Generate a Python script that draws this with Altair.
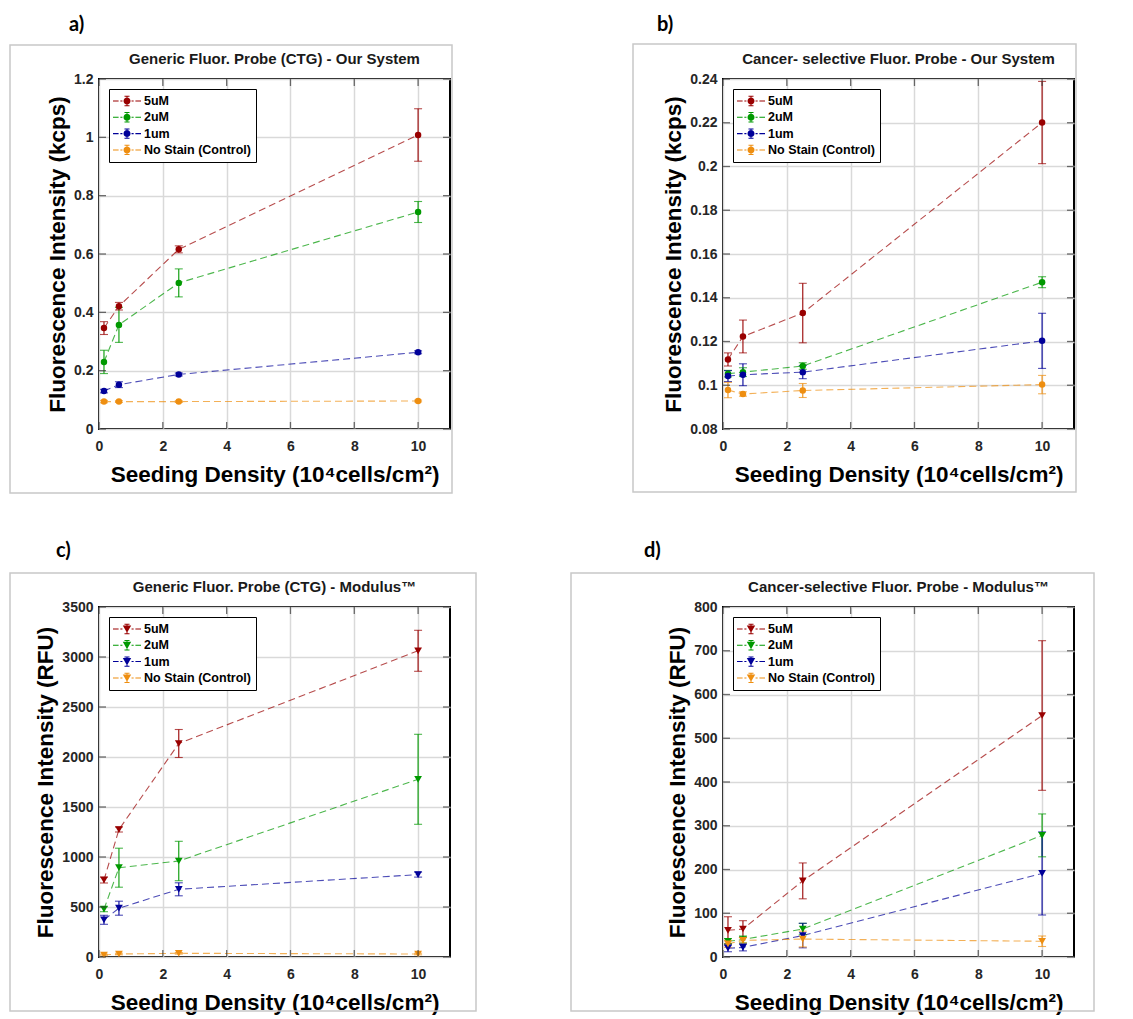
import math
import altair as alt
import pandas as pd

# ---------------- data ----------------
x_density = [0.156, 0.625, 2.5, 10]
series_names = ["5uM", "2uM", "1um", "No Stain (Control)"]
series_colors = ["#990000", "#009900", "#000099", "#EE8E10"]
x_ticks = [0, 2, 4, 6, 8, 10]

# a) Generic probe - our system (kcps)
a_5uM = [0.346, 0.421, 0.616, 1.008]
a_5uM_err = [0.022, 0.013, 0.012, 0.090]
a_2uM = [0.230, 0.357, 0.501, 0.744]
a_2uM_err = [0.040, 0.060, 0.048, 0.036]
a_1um = [0.130, 0.152, 0.187, 0.263]
a_1um_err = [0.006, 0.010, 0.005, 0.005]
a_ctrl = [0.094, 0.094, 0.094, 0.096]
a_ctrl_err = [0.004, 0.003, 0.003, 0.003]
a_y_ticks = [0, 0.2, 0.4, 0.6, 0.8, 1.0, 1.2]

# b) Cancer-selective probe - our system (kcps)
b_5uM = [0.1118, 0.1223, 0.1330, 0.2201]
b_5uM_err = [0.0030, 0.0075, 0.0136, 0.0188]
b_2uM = [0.1053, 0.1060, 0.1088, 0.1471]
b_2uM_err = [0.0015, 0.0020, 0.0015, 0.0025]
b_1um = [0.1042, 0.1048, 0.1060, 0.1203]
b_1um_err = [0.0025, 0.0050, 0.0030, 0.0126]
b_ctrl = [0.0978, 0.0960, 0.0976, 0.1003]
b_ctrl_err = [0.0035, 0.0010, 0.0032, 0.0042]
b_y_ticks = [0.08, 0.10, 0.12, 0.14, 0.16, 0.18, 0.20, 0.22, 0.24]

# c) Generic probe - Modulus (RFU)
c_5uM = [770, 1275, 2135, 3062]
c_5uM_err = [30, 25, 140, 205]
c_2uM = [478, 893, 960, 1777]
c_2uM_err = [25, 195, 197, 450]
c_1um = [372, 488, 677, 824]
c_1um_err = [45, 70, 65, 25]
c_ctrl = [20, 30, 37, 30]
c_ctrl_err = [8, 8, 8, 8]
c_y_ticks = [0, 500, 1000, 1500, 2000, 2500, 3000, 3500]

# d) Cancer-selective probe - Modulus (RFU)
d_5uM = [61, 64, 174, 552]
d_5uM_err = [31, 19, 41, 171]
d_2uM = [36, 40, 64, 278]
d_2uM_err = [6, 8, 13, 49]
d_1um = [20, 22, 49, 191]
d_1um_err = [8, 8, 28, 95]
d_ctrl = [30, 38, 41, 36]
d_ctrl_err = [8, 6, 18, 12]
d_y_ticks = [0, 100, 200, 300, 400, 500, 600, 700, 800]

panel_labels = ["a)", "b)", "c)", "d)"]
panel_titles = [
    "Generic Fluor. Probe (CTG) - Our System",
    "Cancer- selective Fluor. Probe - Our System",
    "Generic Fluor. Probe (CTG) - Modulus\u2122",
    "Cancer-selective Fluor. Probe - Modulus\u2122",
]
y_titles = [
    "Fluorescence Intensity (kcps)",
    "Fluorescence Intensity (kcps)",
    "Fluorescence Intensity (RFU)",
    "Fluorescence Intensity (RFU)",
]
x_title = "Seeding Density (10\u2074cells/cm\u00b2)"

# ---------------- layout / style ----------------
W, H = 351, 350
FONT = "Liberation Sans"


def rect_path(x1, y1, x2, y2):
    return f"M{x1},{y1}L{x2},{y1}L{x2},{y2}L{x1},{y2}Z"


# legend glyph (unit = 7px): dashed line + error bar + marker, all as filled shapes
t = 0.075
glyph_lines = "".join(
    rect_path(a, -t, b, t) for a, b in [(-2.0, -1.2), (-0.95, -0.65), (0.65, 0.95), (1.2, 2.0)]
)
glyph_err = (
    rect_path(-t, -0.72, t, 0.72)
    + rect_path(-0.36, -0.74, 0.36, -0.6)
    + rect_path(-0.36, 0.6, 0.36, 0.74)
)
circ_pts = [(0.5 * math.cos(2 * math.pi * k / 16), 0.5 * math.sin(2 * math.pi * k / 16)) for k in range(16)]
glyph_circle = "M" + "L".join(f"{px:.3f},{py:.3f}" for px, py in circ_pts) + "Z"
glyph_tri = "M-0.6,-0.5L0.6,-0.5L0,0.55Z"


def make_legend(sym):
    return alt.Legend(
        orient="top-left",
        offset=10,
        title=None,
        strokeColor="black",
        fillColor="white",
        padding=5,
        rowPadding=2.3,
        symbolType=sym,
        symbolSize=196,
        symbolOffset=6,
        symbolOpacity=1,
        symbolStrokeWidth=0,
        labelOffset=10,
        labelFont=FONT,
        labelFontSize=12.5,
        labelFontWeight="bold",
        labelColor="black",
    )


def panel(idx, groups, ydom, yticks, yfmt, shape, msize, sym, frame, lab):
    rows = []
    for s, (m, e) in zip(series_names, groups):
        for xv, mv, ev in zip(x_density, m, e):
            rows.append({"series": s, "x": xv, "y": mv, "lo": mv - ev, "hi": mv + ev})
    df = pd.DataFrame(rows)

    xs = alt.Scale(domain=[0, 11], nice=False, zero=False)
    ys = alt.Scale(domain=ydom, nice=False, zero=False)
    xax = alt.Axis(values=x_ticks, title=x_title, format="d", labelFlush=False)
    yax = alt.Axis(values=yticks, title=y_titles[idx], format=yfmt, labelFlush=False)
    X = alt.X("x:Q", scale=xs, axis=xax)
    Y = alt.Y("y:Q", scale=ys, axis=yax)
    cscale = alt.Scale(domain=series_names, range=series_colors)
    C = alt.Color("series:N", scale=cscale, legend=make_legend(sym))

    base = alt.Chart(df)
    lines = base.mark_line(strokeDash=[7, 4], strokeWidth=1.1, opacity=0.7).encode(
        x=X, y=Y, color=C, detail="series:N"
    )
    bars = base.mark_rule(strokeWidth=1.1).encode(
        x=X, y=alt.Y("lo:Q", scale=ys, axis=yax), y2="hi:Q", color=C
    )
    cap_lo = base.mark_tick(orient="horizontal", size=8, thickness=1.1).encode(
        x=X, y=alt.Y("lo:Q", scale=ys, axis=yax), color=C
    )
    cap_hi = base.mark_tick(orient="horizontal", size=8, thickness=1.1).encode(
        x=X, y=alt.Y("hi:Q", scale=ys, axis=yax), color=C
    )
    points = base.mark_point(shape=shape, filled=True, size=msize, opacity=1).encode(
        x=X, y=Y, color=C
    )

    xt = alt.Chart(pd.DataFrame({"x": x_ticks}))
    yt = alt.Chart(pd.DataFrame({"y": yticks}))
    tick_style = dict(size=7, thickness=1.3, color="#333333")
    t_top = xt.mark_tick(orient="vertical", **tick_style).encode(x=X, y=alt.value(3.5))
    t_bot = xt.mark_tick(orient="vertical", **tick_style).encode(x=X, y=alt.value(H - 3.5))
    t_left = yt.mark_tick(orient="horizontal", **tick_style).encode(y=Y, x=alt.value(3.5))
    t_right = yt.mark_tick(orient="horizontal", **tick_style).encode(y=Y, x=alt.value(W - 3.5))

    fx1, fx2, fy1, fy2 = frame
    frm = alt.Chart(pd.DataFrame({"k": [0]})).mark_rect(
        fillOpacity=0, stroke="#c8c8c8", strokeWidth=1.5
    ).encode(x=alt.value(fx1), x2=alt.value(fx2), y=alt.value(fy1), y2=alt.value(fy2))

    lx, ly = lab
    label = alt.Chart(pd.DataFrame({"t": [panel_labels[idx]]})).mark_text(
        font="Lato", fontSize=20, fontWeight="bold", align="left", baseline="top", color="black"
    ).encode(text="t:N", x=alt.value(lx), y=alt.value(ly))

    title = alt.Chart(pd.DataFrame({"t": [panel_titles[idx]]})).mark_text(
        font=FONT, fontSize=15, fontWeight="bold", align="center", baseline="alphabetic",
        color="#1a1a1a"
    ).encode(text="t:N", x=alt.value(W / 2), y=alt.value(-15))

    return alt.layer(
        frm, lines, bars, cap_lo, cap_hi, points, t_top, t_bot, t_left, t_right, label, title
    ).properties(width=W, height=H)


pa = panel(0, [(a_5uM, a_5uM_err), (a_2uM, a_2uM_err), (a_1um, a_1um_err), (a_ctrl, a_ctrl_err)],
           [0, 1.2], a_y_ticks, ".1~f", "circle", 42, glyph_lines + glyph_err + glyph_circle,
           (-89, 353, -34, 414), (-30, -64))
pb = panel(1, [(b_5uM, b_5uM_err), (b_2uM, b_2uM_err), (b_1um, b_1um_err), (b_ctrl, b_ctrl_err)],
           [0.08, 0.24], b_y_ticks, ".2~f", "circle", 42, glyph_lines + glyph_err + glyph_circle,
           (-90, 353, -35, 413), (-66, -64))
pc = panel(2, [(c_5uM, c_5uM_err), (c_2uM, c_2uM_err), (c_1um, c_1um_err), (c_ctrl, c_ctrl_err)],
           [0, 3500], c_y_ticks, "d", "triangle-down", 60, glyph_lines + glyph_err + glyph_tri,
           (-89, 377, -34, 404), (-43, -66))
pd_ = panel(3, [(d_5uM, d_5uM_err), (d_2uM, d_2uM_err), (d_1um, d_1um_err), (d_ctrl, d_ctrl_err)],
            [0, 800], d_y_ticks, "d", "triangle-down", 60, glyph_lines + glyph_err + glyph_tri,
            (-152, 371, -34, 404), (-79, -66))

chart = (
    alt.concat(pa, pb, pc, pd_, columns=2, spacing={"row": 178, "column": 273}, bounds="flush")
    .resolve_scale(color="independent", x="independent", y="independent")
    .resolve_legend(color="independent")
    .configure(padding={"left": 0, "top": 6, "right": 0, "bottom": 0}, background="white")
    .configure_view(stroke="black", strokeWidth=2)
    .configure_axis(
        grid=True,
        gridColor="#d9d9d9",
        gridWidth=1.5,
        domain=False,
        ticks=False,
        tickSize=0,
        labelFont=FONT,
        labelFontSize=14,
        labelFontWeight="bold",
        labelColor="#262626",
        titleFont=FONT,
        titleFontSize=22.5,
        titleFontWeight="bold",
        titleColor="black",
    )
    .configure_axisX(labelPadding=10, titlePadding=10)
    .configure_axisY(labelPadding=6, titlePadding=4)
)

chart.save("out.html", embed_options={"renderer": "svg", "actions": False})
